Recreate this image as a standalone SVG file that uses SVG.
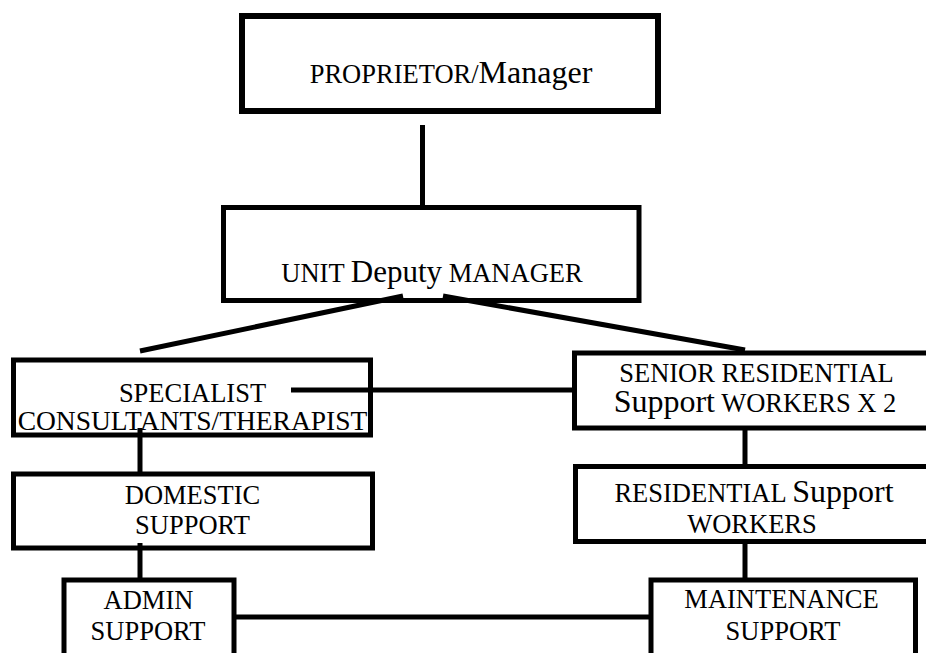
<svg xmlns="http://www.w3.org/2000/svg" width="926" height="653" viewBox="0 0 926 653">
<style>
.box{fill:#fff;stroke:#000;stroke-width:5}
.t{font-family:"Liberation Serif","Times New Roman",serif;font-size:26.5px;fill:#000;text-anchor:middle}
.big{font-size:32px}
.con line{stroke:#000;stroke-width:5}
</style>
<rect width="926" height="653" fill="#fff"/>
<g id="proprietor">
<rect class="box" x="242" y="16" width="416" height="95" style="stroke-width:6"/>
<text class="t" x="451" y="83"><tspan>PROPRIETOR/</tspan><tspan class="big">Manager</tspan></text>
</g>
<g id="unit">
<rect class="box" x="223.5" y="207.5" width="415.5" height="93"/>
<text class="t" x="432" y="282"><tspan>UNIT </tspan><tspan style="font-size:31px">Deputy</tspan><tspan> MANAGER</tspan></text>
</g>
<g id="specialist">
<rect class="box" x="13.5" y="360" width="357" height="75"/>
<text class="t" x="192.5" y="402">SPECIALIST</text>
<text class="t" x="192.5" y="430" style="font-size:27.5px">CONSULTANTS/THERAPIST</text>
</g>
<g id="senior">
<rect class="box" x="574.5" y="353" width="360" height="75"/>
<text class="t" x="756.5" y="382">SENIOR RESIDENTIAL</text>
<text class="t" x="755" y="412"><tspan class="big">Support</tspan><tspan> WORKERS X 2</tspan></text>
</g>
<g id="domestic">
<rect class="box" x="13.5" y="474" width="359" height="74"/>
<text class="t" x="192.5" y="504">DOMESTIC</text>
<text class="t" x="192.5" y="534">SUPPORT</text>
</g>
<g id="residential">
<rect class="box" x="575.5" y="466.5" width="360" height="75"/>
<text class="t" x="754" y="502"><tspan>RESIDENTIAL </tspan><tspan class="big">Support</tspan></text>
<text class="t" x="752" y="533">WORKERS</text>
</g>
<g id="admin">
<rect class="box" x="64" y="580" width="170" height="100"/>
<text class="t" x="148.5" y="609">ADMIN</text>
<text class="t" x="148" y="640">SUPPORT</text>
</g>
<g id="maintenance">
<rect class="box" x="651" y="580" width="264.5" height="100"/>
<text class="t" x="781.5" y="608">MAINTENANCE</text>
<text class="t" x="783" y="640">SUPPORT</text>
</g>
<g id="connectors" class="con">
<line x1="422.5" y1="125" x2="422.5" y2="205"/>
<line x1="403" y1="296" x2="140" y2="351"/>
<line x1="443" y1="296" x2="745" y2="350"/>
<line x1="291" y1="390" x2="572" y2="390"/>
<line x1="140" y1="428" x2="140" y2="472"/>
<line x1="745" y1="430" x2="745" y2="465"/>
<line x1="140" y1="543" x2="140" y2="578"/>
<line x1="745" y1="544" x2="745" y2="578"/>
<line x1="236" y1="617" x2="649" y2="617"/>
</g>
</svg>
